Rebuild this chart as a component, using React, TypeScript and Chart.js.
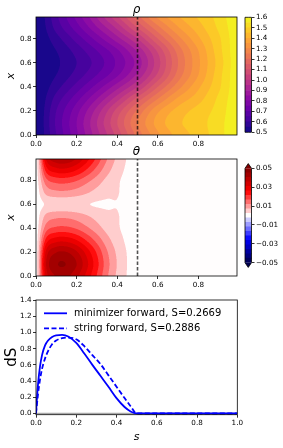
import React, { useEffect, useRef } from 'react';
import { Chart, registerables } from 'chart.js';

Chart.register(...registerables);

// ---------------- data ----------------
// rho(s, x): columns = s, rows = x
const rhoS = [0, 0.1, 0.2, 0.3, 0.4, 0.5, 0.6, 0.7, 0.8, 0.9, 1.0];
const rhoX = [0, 0.1, 0.2, 0.3, 0.4, 0.5, 0.6, 0.7, 0.8, 0.9, 1.0];
const rhoValues = [
  [0.50, 0.65, 0.79, 0.93, 1.07, 1.22, 1.34, 1.42, 1.47, 1.53, 1.60],
  [0.50, 0.66, 0.80, 0.95, 1.10, 1.25, 1.37, 1.44, 1.48, 1.53, 1.60],
  [0.50, 0.65, 0.78, 0.92, 1.07, 1.21, 1.34, 1.42, 1.47, 1.52, 1.60],
  [0.50, 0.62, 0.73, 0.85, 0.98, 1.12, 1.25, 1.36, 1.43, 1.51, 1.59],
  [0.50, 0.58, 0.67, 0.77, 0.88, 1.00, 1.15, 1.28, 1.39, 1.49, 1.59],
  [0.50, 0.55, 0.62, 0.70, 0.79, 0.91, 1.06, 1.22, 1.35, 1.48, 1.59],
  [0.50, 0.54, 0.60, 0.67, 0.76, 0.87, 1.03, 1.20, 1.34, 1.47, 1.59],
  [0.50, 0.55, 0.62, 0.70, 0.79, 0.91, 1.06, 1.22, 1.35, 1.48, 1.59],
  [0.50, 0.58, 0.67, 0.77, 0.88, 1.00, 1.15, 1.28, 1.39, 1.49, 1.59],
  [0.50, 0.62, 0.73, 0.85, 0.97, 1.11, 1.24, 1.35, 1.43, 1.51, 1.59],
  [0.50, 0.64, 0.77, 0.91, 1.05, 1.19, 1.32, 1.40, 1.46, 1.52, 1.60],
];
const rhoLevels = [0.5, 0.55, 0.6, 0.65, 0.7, 0.75, 0.8, 0.85, 0.9, 0.95, 1.0, 1.05, 1.1, 1.15, 1.2, 1.25, 1.3, 1.35, 1.4, 1.45, 1.5, 1.55, 1.6];
const rhoTicks = [0.5, 0.6, 0.7, 0.8, 0.9, 1.0, 1.1, 1.2, 1.3, 1.4, 1.5, 1.6];

// theta(s, x): columns = s (0..0.5), rows = x; zero for s >= 0.5
const thetaS = [0, 0.05, 0.1, 0.15, 0.2, 0.25, 0.3, 0.35, 0.4, 0.45, 0.5];
const thetaX = [0, 0.1, 0.2, 0.3, 0.4, 0.5, 0.6, 0.7, 0.8, 0.9, 1.0];
const thetaValues = [
  [0, 0.0330, 0.0410, 0.0415, 0.0372, 0.0296, 0.0212, 0.0127, 0.0063, 0.0021, 0],
  [0, 0.0359, 0.0446, 0.0451, 0.0405, 0.0322, 0.0230, 0.0138, 0.0069, 0.0023, 0],
  [0, 0.0323, 0.0402, 0.0406, 0.0364, 0.0290, 0.0207, 0.0124, 0.0062, 0.0021, 0],
  [0, 0.0233, 0.0290, 0.0293, 0.0263, 0.0209, 0.0150, 0.0090, 0.0045, 0.0015, 0],
  [0, 0.0144, 0.0178, 0.0180, 0.0162, 0.0129, 0.0092, 0.0055, 0.0030, 0.0010, 0],
  [0, 0.0086, 0.0107, 0.0108, 0.0097, 0.0077, 0.0055, 0.0035, 0.0027, 0.0008, 0],
  [0, 0.0029, 0.0036, 0.0036, 0.0032, 0.0026, 0.0020, 0.0019, 0.0022, 0.0006, 0],
  [0, 0.0086, 0.0107, 0.0108, 0.0097, 0.0077, 0.0055, 0.0035, 0.0027, 0.0008, 0],
  [0, 0.0151, 0.0187, 0.0189, 0.0170, 0.0135, 0.0097, 0.0058, 0.0031, 0.0010, 0],
  [0, 0.0244, 0.0303, 0.0307, 0.0275, 0.0219, 0.0156, 0.0094, 0.0047, 0.0016, 0],
  [0, 0.0323, 0.0402, 0.0406, 0.0364, 0.0290, 0.0207, 0.0124, 0.0062, 0.0021, 0],
];
const thetaMin = -0.05;
const thetaMax = 0.05;
const thetaBandCount = 21;
const thetaTicks = [-0.05, -0.03, -0.01, 0.01, 0.03, 0.05];

const heatSTicks = [0, 0.2, 0.4, 0.6, 0.8];
const heatXTicks = [0, 0.2, 0.4, 0.6, 0.8];
const heatSMax = 0.99;
const heatXMax = 0.98;
const markerS = 0.5;

// dS(s) curves
const minimizerS = [0, 0.005, 0.01, 0.02, 0.03, 0.045, 0.06, 0.08, 0.1, 0.13, 0.16, 0.2, 0.24, 0.28, 0.32, 0.36, 0.4, 0.44, 0.47, 0.5, 0.6, 0.8, 1.0];
const minimizerDS = [0, 0.2, 0.36, 0.58, 0.72, 0.84, 0.9, 0.945, 0.965, 0.97, 0.95, 0.87, 0.74, 0.6, 0.465, 0.33, 0.19, 0.08, 0.025, 0, 0, 0, 0];
const stringS = [0, 0.005, 0.01, 0.02, 0.03, 0.045, 0.06, 0.08, 0.1, 0.13, 0.16, 0.2, 0.24, 0.28, 0.32, 0.36, 0.4, 0.44, 0.47, 0.5, 0.6, 0.8, 1.0];
const stringDS = [0, 0.12, 0.24, 0.42, 0.55, 0.68, 0.77, 0.855, 0.9, 0.93, 0.935, 0.915, 0.83, 0.72, 0.61, 0.47, 0.33, 0.19, 0.09, 0, 0, 0, 0];
const minimizerLabel = 'minimizer forward, S=0.2669';
const stringLabel = 'string forward, S=0.2886';
const lineSTicks = [0, 0.2, 0.4, 0.6, 0.8, 1.0];
const lineDSTicks = [0, 0.2, 0.4, 0.6, 0.8, 1.0, 1.2, 1.4];
const lineDSMin = -0.015;
const lineDSMax = 1.4;

// ---------------- colours ----------------
const FONT = "'DejaVu Sans', sans-serif";
Chart.defaults.font.family = FONT;
Chart.defaults.color = '#000';

const plasmaStops = ['#0d0887', '#41049d', '#6a00a8', '#8f0da4', '#b12a90', '#cc4778', '#e16462', '#f2844b', '#fca636', '#fcce25', '#f0f921'];
const hexRgb = (h: string) => [parseInt(h.slice(1, 3), 16), parseInt(h.slice(3, 5), 16), parseInt(h.slice(5, 7), 16)];
const plasmaRgb = plasmaStops.map(hexRgb);
function plasma(t: number) {
  const u = Math.max(0, Math.min(1, t)) * (plasmaRgb.length - 1);
  const i = Math.min(Math.floor(u), plasmaRgb.length - 2);
  const f = u - i;
  return plasmaRgb[i].map((c, k) => c + (plasmaRgb[i + 1][k] - c) * f);
}
function seismic(t: number) {
  const i = Math.min(255, Math.max(0, Math.floor(t * 256)));
  const x = i / 255;
  let r, g, b;
  if (x <= 0.25) { r = 0; g = 0; b = 0.3 + 0.7 * (x / 0.25); }
  else if (x <= 0.5) { r = (x - 0.25) / 0.25; g = r; b = 1; }
  else if (x <= 0.75) { r = 1; g = 1 - (x - 0.5) / 0.25; b = g; }
  else { r = 1 - 0.5 * (x - 0.75) / 0.25; g = 0; b = 0; }
  return [r * 255, g * 255, b * 255];
}
const rgbStr = (c: number[]) => `rgb(${Math.round(c[0])},${Math.round(c[1])},${Math.round(c[2])})`;

const rhoBandColors = rhoLevels.slice(0, -1).map((lo, i) => {
  const mid = (lo + rhoLevels[i + 1]) / 2;
  return plasma((mid - rhoLevels[0]) / (rhoLevels[rhoLevels.length - 1] - rhoLevels[0]));
});
const thetaLevels: number[] = [];
for (let i = 0; i <= thetaBandCount; i++) thetaLevels.push(thetaMin + ((thetaMax - thetaMin) * i) / thetaBandCount);
const thetaBandColors = thetaLevels.slice(0, -1).map((lo, i) => {
  const mid = (lo + thetaLevels[i + 1]) / 2;
  return seismic((mid - thetaMin) / (thetaMax - thetaMin));
});

// ---------------- field sampling ----------------
function cubic(p0: number, p1: number, p2: number, p3: number, t: number) {
  return p1 + 0.5 * t * (p2 - p0 + t * (2 * p0 - 5 * p1 + 4 * p2 - p3 + t * (3 * (p1 - p2) + p3 - p0)));
}
function sampleGrid(cols: number[], rows: number[], vals: number[][], sv: number, xv: number) {
  const nc = cols.length, nr = rows.length;
  const fc = Math.max(0, Math.min(nc - 1, ((sv - cols[0]) / (cols[nc - 1] - cols[0])) * (nc - 1)));
  const fr = Math.max(0, Math.min(nr - 1, ((xv - rows[0]) / (rows[nr - 1] - rows[0])) * (nr - 1)));
  const ic = Math.min(Math.floor(fc), nc - 2), tc = fc - ic;
  const ir = Math.min(Math.floor(fr), nr - 2), tr = fr - ir;
  const cc = (j: number) => Math.max(0, Math.min(nc - 1, j));
  const cr = (j: number) => Math.max(0, Math.min(nr - 1, j));
  const rowVal = (r: number) => cubic(vals[r][cc(ic - 1)], vals[r][ic], vals[r][ic + 1], vals[r][cc(ic + 2)], tc);
  return cubic(rowVal(cr(ir - 1)), rowVal(ir), rowVal(ir + 1), rowVal(cr(ir + 2)), tr);
}

type Field = { cols: number[]; rows: number[]; vals: number[][]; levels: number[]; colors: number[][] };
const rhoField: Field = { cols: rhoS, rows: rhoX, vals: rhoValues, levels: rhoLevels, colors: rhoBandColors };
const thetaField: Field = { cols: thetaS, rows: thetaX, vals: thetaValues, levels: thetaLevels, colors: thetaBandColors };

function fieldColor(f: Field, sv: number, xv: number) {
  const v = sampleGrid(f.cols, f.rows, f.vals, sv, xv);
  const L = f.levels, n = L.length - 1;
  let k = Math.floor(((v - L[0]) / (L[n] - L[0])) * n);
  k = Math.max(0, Math.min(n - 1, k));
  return f.colors[k];
}

const fieldPlugin = (f: Field) => ({
  id: 'contourField',
  beforeDatasetsDraw(chart: any) {
    const { ctx, chartArea: a, scales } = chart;
    const xs = scales.x, ys = scales.y;
    const L = Math.floor(a.left), T = Math.floor(a.top);
    const w = Math.ceil(a.right) - L, h = Math.ceil(a.bottom) - T;
    const off = document.createElement('canvas');
    off.width = w; off.height = h;
    const octx = off.getContext('2d')!;
    const img = octx.createImageData(w, h);
    const SS = 3;
    const sVals: number[] = [];
    for (let i = 0; i < w * SS; i++) sVals.push(xs.getValueForPixel(L + (i + 0.5) / SS));
    const xVals: number[] = [];
    for (let j = 0; j < h * SS; j++) xVals.push(ys.getValueForPixel(T + (j + 0.5) / SS));
    for (let j = 0; j < h; j++) {
      for (let i = 0; i < w; i++) {
        let r = 0, g = 0, b = 0;
        for (let sj = 0; sj < SS; sj++) {
          for (let si = 0; si < SS; si++) {
            const c = fieldColor(f, sVals[i * SS + si], xVals[j * SS + sj]);
            r += c[0]; g += c[1]; b += c[2];
          }
        }
        const p = (j * w + i) * 4;
        const n = SS * SS;
        img.data[p] = r / n; img.data[p + 1] = g / n; img.data[p + 2] = b / n; img.data[p + 3] = 255;
      }
    }
    octx.putImageData(img, 0, 0);
    ctx.save();
    ctx.beginPath();
    ctx.rect(a.left, a.top, a.right - a.left, a.bottom - a.top);
    ctx.clip();
    ctx.drawImage(off, L, T);
    ctx.restore();
  },
});

const framePlugin = {
  id: 'frame',
  afterDraw(chart: any) {
    const { ctx, chartArea: a } = chart;
    ctx.save();
    ctx.strokeStyle = '#000';
    ctx.lineWidth = 0.8;
    ctx.strokeRect(a.left, a.top, a.right - a.left, a.bottom - a.top);
    ctx.restore();
  },
};

const titlePlugin = (text: string) => ({
  id: 'axTitle',
  afterDraw(chart: any) {
    const { ctx, chartArea: a } = chart;
    ctx.save();
    ctx.fillStyle = '#000';
    ctx.font = `italic 12px ${FONT}`;
    ctx.textAlign = 'center';
    ctx.textBaseline = 'alphabetic';
    ctx.fillText(text, (a.left + a.right) / 2, a.top - 4.3);
    ctx.restore();
  },
});

const legendPlugin = {
  id: 'inlineLegend',
  afterDatasetsDraw(chart: any) {
    const { ctx, chartArea: a } = chart;
    let row = 0;
    chart.data.datasets.forEach((ds: any) => {
      if (!ds.label) return;
      const y = a.top + 13.3 + row * 15;
      row++;
      ctx.save();
      ctx.strokeStyle = ds.borderColor;
      ctx.lineWidth = ds.borderWidth;
      ctx.setLineDash(ds.borderDash || []);
      ctx.beginPath();
      ctx.moveTo(a.left + 8, y);
      ctx.lineTo(a.left + 31, y);
      ctx.stroke();
      ctx.setLineDash([]);
      ctx.fillStyle = '#000';
      ctx.font = `10px ${FONT}`;
      ctx.textBaseline = 'middle';
      ctx.textAlign = 'left';
      ctx.fillText(ds.label, a.left + 38, y);
      ctx.restore();
    });
  },
};

const cbFramePlugin = (extend: boolean, under?: number[], over?: number[]) => ({
  id: 'cbFrame',
  afterDatasetsDraw(chart: any) {
    const { ctx, chartArea: a } = chart;
    const ext = extend ? 0.05 * (a.bottom - a.top) : 0;
    const cx = (a.left + a.right) / 2;
    ctx.save();
    if (extend && under && over) {
      ctx.fillStyle = rgbStr(over);
      ctx.beginPath();
      ctx.moveTo(a.left, a.top); ctx.lineTo(a.right, a.top); ctx.lineTo(cx, a.top - ext); ctx.closePath();
      ctx.fill();
      ctx.fillStyle = rgbStr(under);
      ctx.beginPath();
      ctx.moveTo(a.left, a.bottom); ctx.lineTo(a.right, a.bottom); ctx.lineTo(cx, a.bottom + ext); ctx.closePath();
      ctx.fill();
    }
    ctx.strokeStyle = '#000';
    ctx.lineWidth = 0.8;
    ctx.beginPath();
    ctx.moveTo(a.left, a.top);
    ctx.lineTo(cx, a.top - ext);
    ctx.lineTo(a.right, a.top);
    ctx.lineTo(a.right, a.bottom);
    ctx.lineTo(cx, a.bottom + ext);
    ctx.lineTo(a.left, a.bottom);
    ctx.closePath();
    ctx.stroke();
    ctx.restore();
  },
});

// ---------------- helpers ----------------
const fixedTicks = (values: number[]) => (scale: any) => {
  scale.ticks = values.map((v) => ({ value: v }));
};
const tickFont = { family: FONT, size: 7.2 };
const tickGrid = { display: true, drawOnChartArea: false, drawTicks: true, tickLength: 3, color: '#000', lineWidth: 0.8 };
const fmt1 = (v: any) => Number(v).toFixed(1);
const fmtTheta = (v: any) => {
  const n = Number(v);
  return (n < 0 ? '\u2212' : '') + Math.abs(n).toFixed(2);
};

function heatConfig(f: Field, title: string, padTop: number, xAxisH: number) {
  return {
    type: 'scatter',
    data: {
      datasets: [
        {
          data: [{ x: markerS, y: 0 }, { x: markerS, y: heatXMax }],
          showLine: true,
          borderColor: 'rgba(0,0,0,0.68)',
          borderWidth: 1.6,
          borderDash: [3.5, 2],
          pointRadius: 0,
        },
      ],
    },
    options: {
      animation: false,
      responsive: false,
      devicePixelRatio: 1,
      events: [],
      layout: { padding: { top: padTop, right: 3, left: 0, bottom: 0 } },
      plugins: { legend: { display: false }, tooltip: { enabled: false } },
      scales: {
        x: {
          type: 'linear', min: 0, max: heatSMax,
          afterBuildTicks: fixedTicks(heatSTicks),
          afterFit: (s: any) => { s.height = xAxisH; },
          ticks: { callback: fmt1, font: tickFont, color: '#000', padding: 1.5, maxRotation: 0, autoSkip: false },
          grid: tickGrid,
          border: { display: false },
        },
        y: {
          type: 'linear', min: 0, max: heatXMax,
          afterBuildTicks: fixedTicks(heatXTicks),
          afterFit: (s: any) => { s.width = 36; },
          ticks: { callback: fmt1, font: tickFont, color: '#000', padding: 1.5, autoSkip: false },
          grid: tickGrid,
          border: { display: false },
          title: { display: true, text: 'x', color: '#000', font: { family: FONT, size: 11, style: 'italic' }, padding: { top: 4.2, bottom: 0 } },
        },
      },
    },
    plugins: [fieldPlugin(f), framePlugin, titlePlugin(title)],
  };
}

function colorbarConfig(levels: number[], colors: number[][], ticks: number[], fmt: any, pad: any, extend: boolean) {
  return {
    type: 'bar',
    data: {
      labels: [''],
      datasets: levels.slice(0, -1).map((lo, i) => ({
        data: [[lo, levels[i + 1]]],
        backgroundColor: rgbStr(colors[i]),
        borderWidth: 0,
        grouped: false,
        barPercentage: 1,
        categoryPercentage: 1,
      })),
    },
    options: {
      animation: false,
      responsive: false,
      devicePixelRatio: 1,
      events: [],
      layout: { padding: pad },
      plugins: { legend: { display: false }, tooltip: { enabled: false } },
      scales: {
        x: { display: false },
        y: {
          position: 'right',
          min: levels[0],
          max: levels[levels.length - 1],
          afterBuildTicks: fixedTicks(ticks),
          afterFit: (s: any) => { s.width = 31.5; },
          ticks: { callback: fmt, font: tickFont, color: '#000', padding: 1.5, autoSkip: false },
          grid: tickGrid,
          border: { display: false },
        },
      },
    },
    plugins: [cbFramePlugin(extend, seismic(0), seismic(1))],
  };
}

function lineConfig() {
  return {
    type: 'line',
    data: {
      datasets: [
        {
          label: minimizerLabel,
          data: minimizerS.map((s, i) => ({ x: s, y: minimizerDS[i] })),
          borderColor: '#0000ff',
          borderWidth: 1.8,
          pointRadius: 0,
          cubicInterpolationMode: 'monotone',
          fill: false,
        },
        {
          label: stringLabel,
          data: stringS.map((s, i) => ({ x: s, y: stringDS[i] })),
          borderColor: '#0000ff',
          borderWidth: 1.8,
          borderDash: [5, 2.5],
          pointRadius: 0,
          cubicInterpolationMode: 'monotone',
          fill: false,
        },
        {
          data: [{ x: 0, y: 0 }, { x: 1, y: 0 }],
          borderColor: '#a8a8a8',
          borderWidth: 1.5,
          pointRadius: 0,
          fill: false,
        },
      ],
    },
    options: {
      animation: false,
      responsive: false,
      devicePixelRatio: 1,
      events: [],
      layout: { padding: { top: 15, right: 45.7, left: 0, bottom: 0 } },
      plugins: { legend: { display: false }, tooltip: { enabled: false } },
      scales: {
        x: {
          type: 'linear', min: 0, max: 1,
          afterBuildTicks: fixedTicks(lineSTicks),
          afterFit: (s: any) => { s.height = 33.3; },
          ticks: { callback: fmt1, font: tickFont, color: '#000', padding: 1.5, maxRotation: 0, autoSkip: false },
          grid: tickGrid,
          border: { display: false },
          title: { display: true, text: 's', color: '#000', font: { family: FONT, size: 11, style: 'italic' }, padding: { top: 0, bottom: 4.7 } },
        },
        y: {
          type: 'linear', min: lineDSMin, max: lineDSMax,
          afterBuildTicks: fixedTicks(lineDSTicks),
          afterFit: (s: any) => { s.width = 36; },
          ticks: { callback: fmt1, font: tickFont, color: '#000', padding: 1.5, autoSkip: false },
          grid: tickGrid,
          border: { display: false },
          title: { display: true, text: 'dS', color: '#000', font: { family: FONT, size: 15 }, padding: { top: 2.7, bottom: 0 } },
        },
      },
    },
    plugins: [legendPlugin, framePlugin],
  };
}

function ChartBox({ left, top, width, height, make }: any) {
  const ref = useRef<HTMLCanvasElement>(null);
  useEffect(() => {
    const chart = new Chart(ref.current as HTMLCanvasElement, make() as any);
    return () => chart.destroy();
  }, []);
  return (
    <canvas
      ref={ref}
      width={width}
      height={height}
      style={{ position: 'absolute', left, top, width, height }}
    />
  );
}

export default function App() {
  return (
    <div style={{ position: 'fixed', left: 0, top: 0, width: 283, height: 448, background: '#fff', overflow: 'hidden' }}>
      <ChartBox left={0} top={0} width={240} height={150} make={() => heatConfig(rhoField, '\u03c1', 17, 15)} />
      <ChartBox left={240} top={0} width={43} height={150}
        make={() => colorbarConfig(rhoLevels, rhoBandColors, rhoTicks, fmt1, { left: 5, top: 17.3, bottom: 17.7, right: 0 }, false)} />
      <ChartBox left={0} top={145} width={240} height={145} make={() => heatConfig(thetaField, '\u03b8', 14, 14)} />
      <ChartBox left={240} top={145} width={43} height={145}
        make={() => colorbarConfig(thetaLevels, thetaBandColors, thetaTicks, fmtTheta, { left: 5, top: 23.3, bottom: 27.3, right: 0 }, true)} />
      <ChartBox left={0} top={285} width={283} height={163} make={lineConfig} />
    </div>
  );
}
